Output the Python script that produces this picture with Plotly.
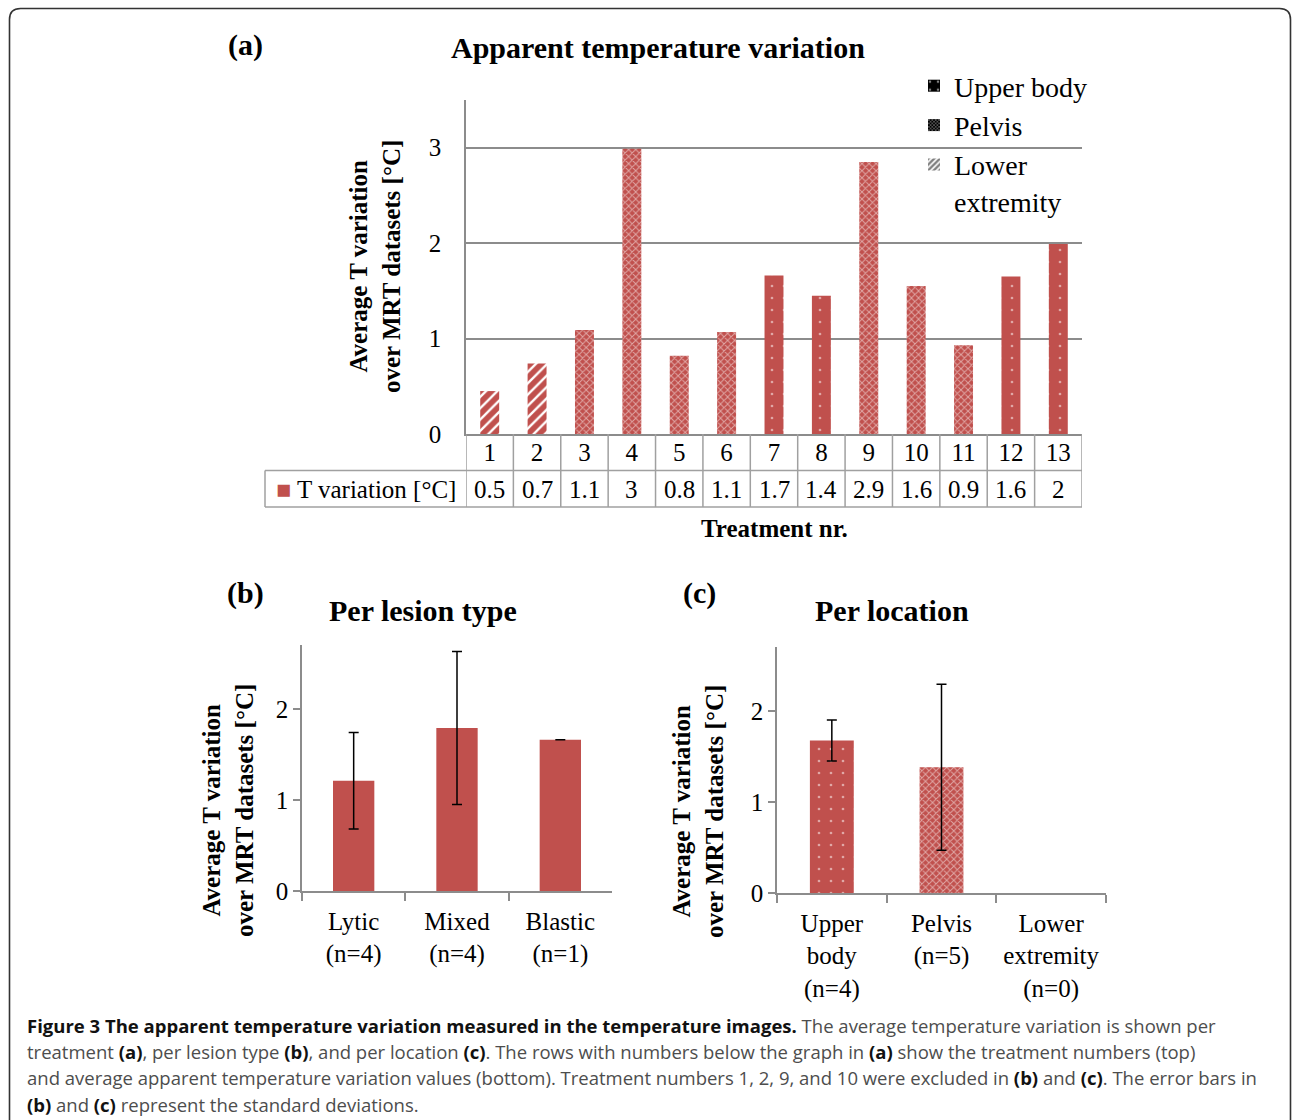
import plotly.graph_objects as go

W, H = 1292, 1120
RED = '#C0504D'
AXIS = '#8c8c8c'
TABLE = '#a0a0a0'
SERIF = 'Liberation Serif, Times New Roman, serif'
SANS = 'Open Sans, sans-serif'

# ---------------- data ----------------
treatments = [str(i) for i in range(1, 14)]
t_variation = [0.45, 0.74, 1.09, 2.99, 0.82, 1.07, 1.66, 1.45, 2.85, 1.55, 0.93, 1.65, 1.99]
t_variation_table = ['0.5', '0.7', '1.1', '3', '0.8', '1.1', '1.7', '1.4', '2.9', '1.6', '0.9', '1.6', '2']
treatment_location = ['Lower extremity', 'Lower extremity', 'Pelvis', 'Pelvis', 'Pelvis', 'Pelvis',
                      'Upper body', 'Upper body', 'Pelvis', 'Pelvis', 'Pelvis', 'Upper body', 'Upper body']
location_names = ['Upper body', 'Pelvis', 'Lower extremity']
legend_names = ['Upper body', 'Pelvis', 'Lower<br>extremity']

lesion_types = ['Lytic<br>(n=4)', 'Mixed<br>(n=4)', 'Blastic<br>(n=1)']
lesion_mean = [1.21, 1.79, 1.66]
lesion_sd = [0.53, 0.84, 0.0]

location_labels = ['Upper<br>body<br>(n=4)', 'Pelvis<br>(n=5)', 'Lower<br>extremity<br>(n=0)']
location_mean = [1.675, 1.38, None]
location_sd = [0.225, 0.91, None]


def fx(px):
    return px / W


def fy(py):
    return 1 - py / H


PAT = {
    'Upper body': dict(shape='.', bgcolor=RED, fgcolor='white', size=12, solidity=0.04),
    'Pelvis': dict(shape='x', bgcolor=RED, fgcolor='white', size=5, solidity=0.35),
    'Lower extremity': dict(shape='/', bgcolor='white', fgcolor=RED, size=8, solidity=0.7, fgopacity=1),
}
PAT_LEG = {
    'Upper body': dict(shape='.', bgcolor='black', fgcolor='white', size=12, solidity=0.08),
    'Pelvis': dict(shape='x', bgcolor='black', fgcolor='white', size=3, solidity=0.4),
    'Lower extremity': dict(shape='/', bgcolor='white', fgcolor='black', size=5, solidity=0.6),
}

fig = go.Figure()

# ---------------- (a) per treatment ----------------
for loc in location_names:
    xs = [t for t, l in zip(treatments, treatment_location) if l == loc]
    ys = [v for v, l in zip(t_variation, treatment_location) if l == loc]
    fig.add_trace(go.Bar(x=xs, y=ys, xaxis='x', yaxis='y', showlegend=False,
                         marker=dict(color=PAT[loc]['bgcolor'], line=dict(width=0), pattern=PAT[loc])))
for loc, name in zip(location_names, legend_names):
    fig.add_trace(go.Bar(x=[None], y=[None], xaxis='x', yaxis='y', name=name, showlegend=True,
                         marker=dict(color=PAT_LEG[loc]['bgcolor'], line=dict(width=0), pattern=PAT_LEG[loc])))

# ---------------- (b) per lesion type ----------------
fig.add_trace(go.Bar(x=lesion_types, y=lesion_mean, xaxis='x2', yaxis='y2', showlegend=False,
                     marker=dict(color=RED, line=dict(width=0)),
                     error_y=dict(type='data', array=lesion_sd, color='black', thickness=1.5, width=5)))

# ---------------- (c) per location ----------------
fig.add_trace(go.Bar(x=location_labels, y=location_mean, xaxis='x3', yaxis='y3', showlegend=False,
                     marker=dict(color=RED, line=dict(width=0),
                                 pattern=dict(shape=[PAT[l]['shape'] for l in location_names],
                                              bgcolor=[PAT[l]['bgcolor'] for l in location_names],
                                              fgcolor=[PAT[l]['fgcolor'] for l in location_names],
                                              size=[PAT[l]['size'] for l in location_names],
                                              solidity=[PAT[l]['solidity'] for l in location_names])),
                     error_y=dict(type='data', array=location_sd, color='black', thickness=1.5, width=5)))

tick_font = dict(family=SERIF, size=25, color='black')

fig.update_layout(
    width=W, height=H, autosize=False,
    margin=dict(l=0, r=0, t=0, b=0, pad=0, autoexpand=False),
    paper_bgcolor='white', plot_bgcolor='white',
    barmode='overlay', bargap=0.6,
    hovermode=False,
    font=dict(family=SERIF, color='black'),
    legend=dict(x=fx(914), y=fy(61), xanchor='left', yanchor='top', bgcolor='rgba(0,0,0,0)',
                font=dict(family=SERIF, size=28, color='black'), tracegroupgap=0, itemwidth=30,
                valign='top'),
    xaxis=dict(domain=[fx(466), fx(1082)], anchor='y', type='category', categoryorder='array',
               categoryarray=treatments, range=[-0.5, 12.5], showline=True, linecolor=AXIS, linewidth=1.5,
               ticks='', tickfont=tick_font, ticklabelstandoff=-5, showgrid=False, zeroline=False,
               fixedrange=True, automargin=False),
    yaxis=dict(domain=[fy(434), fy(100)], anchor='x', range=[0, 3.5], tickvals=[0, 1, 2, 3],
               showline=True, linecolor=AXIS, linewidth=1.5, showgrid=True, gridcolor=AXIS, gridwidth=1.5,
               ticks='', ticklabelstandoff=18, tickfont=tick_font, zeroline=False, fixedrange=True,
               automargin=False),
    xaxis2=dict(domain=[fx(302), fx(612)], anchor='y2', type='category', range=[-0.5, 2.5],
                showline=True, linecolor=AXIS, linewidth=1.5, ticks='outside', tickson='boundaries',
                ticklen=8, tickcolor=AXIS, tickwidth=1.5, tickfont=tick_font, ticklabelstandoff=7,
                showgrid=False, zeroline=False, automargin=False),
    yaxis2=dict(domain=[fy(891), fy(645)], anchor='x2', range=[0, 2.7], tickvals=[0, 1, 2],
                showline=True, linecolor=AXIS, linewidth=1.5, ticks='outside', ticklen=7, tickcolor=AXIS,
                tickwidth=1.5, tickfont=tick_font, showgrid=False, zeroline=False, automargin=False),
    xaxis3=dict(domain=[fx(777), fx(1106)], anchor='y3', type='category', range=[-0.5, 2.5],
                showline=True, linecolor=AXIS, linewidth=1.5, ticks='outside', tickson='boundaries',
                ticklen=8, tickcolor=AXIS, tickwidth=1.5, tickfont=tick_font, ticklabelstandoff=7,
                showgrid=False, zeroline=False, automargin=False),
    yaxis3=dict(domain=[fy(893), fy(647)], anchor='x3', range=[0, 2.7], tickvals=[0, 1, 2],
                showline=True, linecolor=AXIS, linewidth=1.5, ticks='outside', ticklen=7, tickcolor=AXIS,
                tickwidth=1.5, tickfont=tick_font, showgrid=False, zeroline=False, automargin=False),
)

# ---------------- table under (a) ----------------
shapes = []
line_t = dict(color=TABLE, width=1.5)
for i in range(len(treatments) + 1):
    shapes.append(dict(type='line', xref='x', yref='paper', x0=i - 0.5, x1=i - 0.5,
                       y0=fy(434), y1=fy(507), line=line_t))
shapes.append(dict(type='line', xref='paper', yref='paper', x0=fx(265), x1=fx(1082),
                   y0=fy(470.5), y1=fy(470.5), line=line_t))
shapes.append(dict(type='line', xref='paper', yref='paper', x0=fx(265), x1=fx(1082),
                   y0=fy(507), y1=fy(507), line=line_t))
shapes.append(dict(type='line', xref='paper', yref='paper', x0=fx(265), x1=fx(265),
                   y0=fy(470.5), y1=fy(507), line=line_t))

# small extension of the category axes to the left of the value axes (as in the original)
for xa, ya in (('x2 domain', 'y2 domain'), ('x3 domain', 'y3 domain')):
    shapes.append(dict(type='line', xref=xa, yref=ya, x0=-7 / 310, x1=0, y0=0, y1=0,
                       line=dict(color=AXIS, width=1.5)))

# outer rounded frame
x0, x1 = 9.5, 1290.5
y0, y1 = 8.5, 1119.9
r = 11
path = (f"M {fx(x0)},{fy(y1)} L {fx(x0)},{fy(y0 + r)} Q {fx(x0)},{fy(y0)} {fx(x0 + r)},{fy(y0)} "
        f"L {fx(x1 - r)},{fy(y0)} Q {fx(x1)},{fy(y0)} {fx(x1)},{fy(y0 + r)} L {fx(x1)},{fy(y1)}")
shapes.append(dict(type='path', xref='paper', yref='paper', path=path,
                   line=dict(color='#333333', width=1.6)))
fig.update_layout(shapes=shapes)

ann = []
for i, v in enumerate(t_variation_table):
    ann.append(dict(x=i, y=fy(489), xref='x', yref='paper', text=v, showarrow=False,
                    xanchor='center', yanchor='middle',
                    font=dict(family=SERIF, size=25, color='black')))

bold30 = dict(family=SERIF, size=30, color='black')
ytitle = '<b>Average T variation<br>over MRT datasets [°C]</b>'
yfont = dict(family=SERIF, size=25, color='black')
extra = [
    dict(x=fx(366), y=fy(489), text=f"<span style='color:{RED}'>■</span> T variation [°C]",
         font=dict(family=SERIF, size=25, color='black')),
    dict(x=fx(245), y=fy(45), text='<b>(a)</b>', font=bold30),
    dict(x=fx(658), y=fy(48), text='<b>Apparent temperature variation</b>', font=bold30),
    dict(x=fx(774), y=fy(528), text='<b>Treatment nr.</b>', font=yfont),
    dict(x=fx(375), y=fy(267), text=ytitle, textangle=-90, font=yfont),
    dict(x=fx(245), y=fy(593), text='<b>(b)</b>', font=bold30),
    dict(x=fx(423), y=fy(610), text='<b>Per lesion type</b>', font=bold30),
    dict(x=fx(228), y=fy(811), text=ytitle, textangle=-90, font=yfont),
    dict(x=fx(699), y=fy(593), text='<b>(c)</b>', font=bold30),
    dict(x=fx(892), y=fy(610), text='<b>Per location</b>', font=bold30),
    dict(x=fx(698), y=fy(812), text=ytitle, textangle=-90, font=yfont),
]
for a in extra:
    a.update(xref='paper', yref='paper', showarrow=False, xanchor='center', yanchor='middle')
ann += extra

B = "<span style='color:#111111'><b>{}</b></span>"
caption = [
    B.format('Figure 3 The apparent temperature variation measured in the temperature images.')
    + ' The average temperature variation is shown per',
    'treatment ' + B.format('(a)') + ', per lesion type ' + B.format('(b)') + ', and per location '
    + B.format('(c)') + '. The rows with numbers below the graph in ' + B.format('(a)')
    + ' show the treatment numbers (top)',
    'and average apparent temperature variation values (bottom). Treatment numbers 1, 2, 9, and 10 were excluded in '
    + B.format('(b)') + ' and ' + B.format('(c)') + '. The error bars in',
    B.format('(b)') + ' and ' + B.format('(c)') + ' represent the standard deviations.',
]
for i, line in enumerate(caption):
    ann.append(dict(x=fx(25), y=fy(1025 + i * 26.4), xref='paper', yref='paper', xanchor='left',
                    yanchor='middle', showarrow=False, text=line,
                    font=dict(family=SANS, size=18.5, color='#4d4d4d')))

fig.update_layout(annotations=ann)
fig.write_html('out.html')
